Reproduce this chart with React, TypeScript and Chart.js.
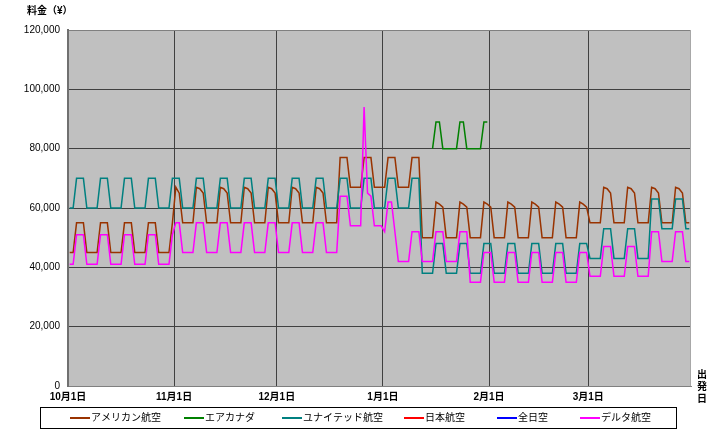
import React, { useEffect, useRef } from 'react';
import { Chart, registerables } from 'chart.js';

Chart.register(...registerables);

// ---- Data ----
const seriesNames = ['アメリカン航空', 'エアカナダ', 'ユナイテッド航空', '日本航空', '全日空', 'デルタ航空'];
const seriesColors = ['#993300', '#008000', '#008080', '#FF0000', '#0000FF', '#FF00FF'];

// day index 0 = 10月1日 ... 181 = 3月30日 (daily fares, one row per week)
const monthTickDays = [0, 31, 61, 92, 123, 152];
const monthTickLabels = ['10月1日', '11月1日', '12月1日', '1月1日', '2月1日', '3月1日'];
const axisDays = 182;
const yTickValues = [0, 20000, 40000, 60000, 80000, 100000, 120000];

const american = [
  45000, 45000, 55000, 55000, 55000, 45000, 45000,
  45000, 45000, 55000, 55000, 55000, 45000, 45000,
  45000, 45000, 55000, 55000, 55000, 45000, 45000,
  45000, 45000, 55000, 55000, 55000, 45000, 45000,
  45000, 45000, 55000, 67000, 65000, 55000, 55000,
  55000, 55000, 67000, 66500, 65000, 55000, 55000,
  55000, 55000, 67000, 66500, 65000, 55000, 55000,
  55000, 55000, 67000, 66500, 65000, 55000, 55000,
  55000, 55000, 67000, 66500, 65000, 55000, 55000,
  55000, 55000, 67000, 66500, 65000, 55000, 55000,
  55000, 55000, 67000, 66500, 65000, 55000, 55000,
  55000, 55000, 77000, 77000, 77000, 67000, 67000,
  67000, 67000, 77000, 77000, 77000, 67000, 67000,
  67000, 67000, 77000, 77000, 77000, 67000, 67000,
  67000, 67000, 77000, 77000, 77000, 50000, 50000,
  50000, 50000, 62000, 61300, 60300, 50000, 50000,
  50000, 50000, 62000, 61300, 60300, 50000, 50000,
  50000, 50000, 62000, 61300, 60300, 50000, 50000,
  50000, 50000, 62000, 61300, 60300, 50000, 50000,
  50000, 50000, 62000, 61300, 60300, 50000, 50000,
  50000, 50000, 62000, 61300, 60300, 50000, 50000,
  50000, 50000, 62000, 61300, 60300, 55000, 55000,
  55000, 55000, 67000, 66500, 65000, 55000, 55000,
  55000, 55000, 67000, 66500, 65000, 55000, 55000,
  55000, 55000, 67000, 66500, 65000, 55000, 55000,
  55000, 55000, 67000, 66500, 65000, 55000, 55000,
];

const airCanada = [
  null, null, null, null, null, null, null,
  null, null, null, null, null, null, null,
  null, null, null, null, null, null, null,
  null, null, null, null, null, null, null,
  null, null, null, null, null, null, null,
  null, null, null, null, null, null, null,
  null, null, null, null, null, null, null,
  null, null, null, null, null, null, null,
  null, null, null, null, null, null, null,
  null, null, null, null, null, null, null,
  null, null, null, null, null, null, null,
  null, null, null, null, null, null, null,
  null, null, null, null, null, null, null,
  null, null, null, null, null, null, null,
  null, null, null, null, null, null, null,
  null, 80000, 89000, 89000, 80000, 80000, 80000,
  80000, 80000, 89000, 89000, 80000, 80000, 80000,
  80000, 80000, 89000, 89000, null, null, null,
  null, null, null, null, null, null, null,
  null, null, null, null, null, null, null,
  null, null, null, null, null, null, null,
  null, null, null, null, null, null, null,
  null, null, null, null, null, null, null,
  null, null, null, null, null, null, null,
  null, null, null, null, null, null, null,
  null, null, null, null, null, null, null,
];

const united = [
  60000, 60000, 70000, 70000, 70000, 60000, 60000,
  60000, 60000, 70000, 70000, 70000, 60000, 60000,
  60000, 60000, 70000, 70000, 70000, 60000, 60000,
  60000, 60000, 70000, 70000, 70000, 60000, 60000,
  60000, 60000, 70000, 70000, 70000, 60000, 60000,
  60000, 60000, 70000, 70000, 70000, 60000, 60000,
  60000, 60000, 70000, 70000, 70000, 60000, 60000,
  60000, 60000, 70000, 70000, 70000, 60000, 60000,
  60000, 60000, 70000, 70000, 70000, 60000, 60000,
  60000, 60000, 70000, 70000, 70000, 60000, 60000,
  60000, 60000, 70000, 70000, 70000, 60000, 60000,
  60000, 60000, 70000, 70000, 70000, 60000, 60000,
  60000, 60000, 70000, 70000, 70000, 60000, 60000,
  60000, 60000, 70000, 70000, 70000, 60000, 60000,
  60000, 60000, 70000, 70000, 70000, 38000, 38000,
  38000, 38000, 48000, 48000, 48000, 38000, 38000,
  38000, 38000, 48000, 48000, 48000, 38000, 38000,
  38000, 38000, 48000, 48000, 48000, 38000, 38000,
  38000, 38000, 48000, 48000, 48000, 38000, 38000,
  38000, 38000, 48000, 48000, 48000, 38000, 38000,
  38000, 38000, 48000, 48000, 48000, 38000, 38000,
  38000, 38000, 48000, 48000, 48000, 43000, 43000,
  43000, 43000, 53000, 53000, 53000, 43000, 43000,
  43000, 43000, 53000, 53000, 53000, 43000, 43000,
  43000, 43000, 63000, 63000, 63000, 53000, 53000,
  53000, 53000, 63000, 63000, 63000, 53000, 53000,
];

const jal: (number | null)[] = [];
const ana: (number | null)[] = [];

const delta = [
  41000, 41000, 51000, 51000, 51000, 41000, 41000,
  41000, 41000, 51000, 51000, 51000, 41000, 41000,
  41000, 41000, 51000, 51000, 51000, 41000, 41000,
  41000, 41000, 51000, 51000, 51000, 41000, 41000,
  41000, 41000, 51000, 55000, 55000, 45000, 45000,
  45000, 45000, 55000, 55000, 55000, 45000, 45000,
  45000, 45000, 55000, 55000, 55000, 45000, 45000,
  45000, 45000, 55000, 55000, 55000, 45000, 45000,
  45000, 45000, 55000, 55000, 55000, 45000, 45000,
  45000, 45000, 55000, 55000, 55000, 45000, 45000,
  45000, 45000, 55000, 55000, 55000, 45000, 45000,
  45000, 45000, 64000, 64000, 64000, 54000, 54000,
  54000, 54000, 94000, 65000, 64000, 54000, 54000,
  54000, 52000, 62000, 62000, 52000, 42000, 42000,
  42000, 42000, 52000, 52000, 52000, 42000, 42000,
  42000, 42000, 52000, 52000, 52000, 42000, 42000,
  42000, 42000, 52000, 52000, 52000, 35000, 35000,
  35000, 35000, 45000, 45000, 45000, 35000, 35000,
  35000, 35000, 45000, 45000, 45000, 35000, 35000,
  35000, 35000, 45000, 45000, 45000, 35000, 35000,
  35000, 35000, 45000, 45000, 45000, 35000, 35000,
  35000, 35000, 45000, 45000, 45000, 37000, 37000,
  37000, 37000, 47000, 47000, 47000, 37000, 37000,
  37000, 37000, 47000, 47000, 47000, 37000, 37000,
  37000, 37000, 52000, 52000, 52000, 42000, 42000,
  42000, 42000, 52000, 52000, 52000, 42000, 42000,
];

const seriesValues = [american, airCanada, united, jal, ana, delta];

// ---- Styling / layout ----
const FONT = '"Liberation Sans", "Noto Sans CJK JP", sans-serif';
const legendItemX = [70, 184, 282, 404, 497, 580];

const decorPlugin = {
  id: 'decor',
  beforeDraw(chart: any) {
    const { ctx, chartArea: a } = chart;
    ctx.save();
    ctx.fillStyle = '#ffffff';
    ctx.fillRect(0, 0, chart.width, chart.height);
    ctx.fillStyle = '#C0C0C0';
    ctx.fillRect(a.left, a.top, a.right - a.left, a.bottom - a.top);
    ctx.restore();
  },
  beforeDatasetsDraw(chart: any) {
    const { ctx, chartArea: a } = chart;
    ctx.save();
    ctx.strokeStyle = '#a8a8a8';
    ctx.lineWidth = 1;
    ctx.beginPath();
    ctx.moveTo(a.right - 0.5, a.top);
    ctx.lineTo(a.right - 0.5, a.bottom);
    ctx.stroke();
    ctx.restore();
  },
  afterDraw(chart: any) {
    const { ctx } = chart;
    ctx.save();
    ctx.fillStyle = '#000';
    ctx.textBaseline = 'middle';
    ctx.textAlign = 'left';
    ctx.font = 'bold 10px ' + FONT;
    ctx.fillText('料金（¥）', 27, 11);

    ctx.textAlign = 'center';
    const vt = ['出', '発', '日'];
    vt.forEach((c, i) => ctx.fillText(c, 702, 375 + i * 12));

    // legend
    ctx.strokeStyle = '#000';
    ctx.lineWidth = 1;
    ctx.strokeRect(40.5, 407.5, 636, 21);
    ctx.font = '10px ' + FONT;
    ctx.textAlign = 'left';
    seriesNames.forEach((name, i) => {
      const x = legendItemX[i];
      ctx.strokeStyle = seriesColors[i];
      ctx.lineWidth = 2;
      ctx.beginPath();
      ctx.moveTo(x, 418);
      ctx.lineTo(x + 20, 418);
      ctx.stroke();
      ctx.fillStyle = '#000';
      ctx.fillText(name, x + 21, 418);
    });
    ctx.restore();
  },
};

export default function App() {
  const ref = useRef<HTMLCanvasElement>(null);

  useEffect(() => {
    if (!ref.current) return;
    const datasets = seriesNames.map((name, s) => ({
      label: name,
      data: seriesValues[s].map((v, i) => ({ x: i + 0.5, y: v })),
      borderColor: seriesColors[s],
      backgroundColor: seriesColors[s],
      borderWidth: 1.5,
      pointRadius: 0,
      tension: 0,
      spanGaps: false,
      fill: false,
      order: seriesNames.length - s,
    }));

    const chart = new Chart(ref.current, {
      type: 'line',
      data: { datasets },
      plugins: [decorPlugin],
      options: {
        animation: false,
        responsive: false,
        maintainAspectRatio: false,
        devicePixelRatio: 1,
        layout: { padding: { top: 30, right: 19, left: 0, bottom: 0 } },
        plugins: {
          legend: { display: false },
          tooltip: { enabled: false },
          title: { display: false },
        },
        scales: {
          x: {
            type: 'linear',
            min: 0,
            max: axisDays,
            afterBuildTicks: (scale: any) => {
              scale.ticks = monthTickDays.map((v) => ({ value: v }));
            },
            afterFit: (scale: any) => {
              scale.height = 47;
            },
            ticks: {
              autoSkip: false,
              maxRotation: 0,
              minRotation: 0,
              padding: 5,
              color: '#000',
              font: { family: FONT, size: 10, weight: 'bold' },
              callback: (_v: any, idx: number) => monthTickLabels[idx],
            },
            grid: {
              color: (c: any) => (c.tick && c.tick.value === 0 ? '#707070' : '#404040'),
              lineWidth: 1,
              drawTicks: false,
            },
            border: { display: true, color: '#808080', width: 1 },
          },
          y: {
            type: 'linear',
            min: 0,
            max: 120000,
            afterBuildTicks: (scale: any) => {
              scale.ticks = yTickValues.map((v) => ({ value: v }));
            },
            afterFit: (scale: any) => {
              scale.width = 68;
            },
            ticks: {
              padding: 8,
              color: '#000',
              font: { family: FONT, size: 10 },
              callback: (v: any) => Number(v).toLocaleString('en-US'),
            },
            grid: {
              color: (c: any) =>
                c.tick && (c.tick.value === 120000 || c.tick.value === 0) ? '#808080' : '#404040',
              lineWidth: 1,
              drawTicks: false,
            },
            border: { display: true, color: '#707070', width: 2 },
          },
        },
      },
    });
    return () => chart.destroy();
  }, []);

  return (
    <div style={{ position: 'absolute', left: 0, top: 0, width: 710, height: 433, background: '#fff' }}>
      <canvas ref={ref} width={710} height={433} style={{ width: 710, height: 433, display: 'block' }} />
    </div>
  );
}
